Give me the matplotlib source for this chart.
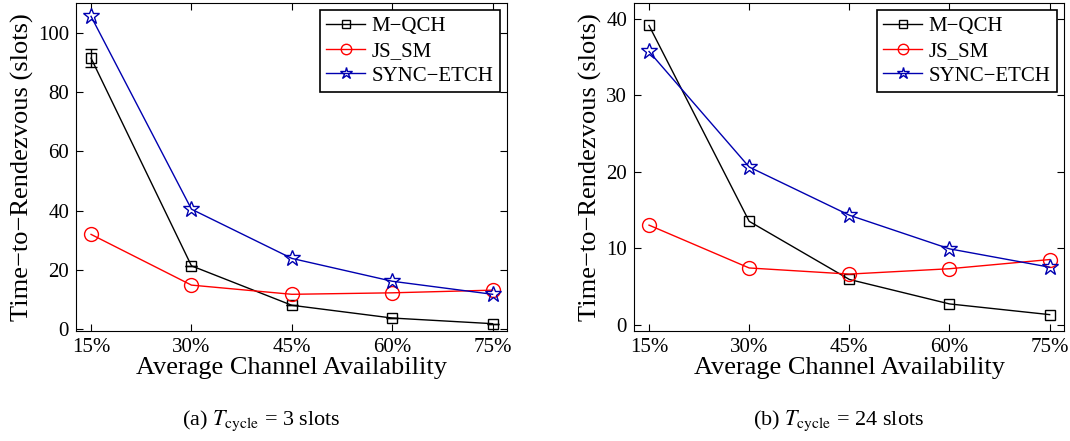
import numpy as np
import matplotlib
matplotlib.use('Agg')
import matplotlib.pyplot as plt

plt.rcParams['font.family'] = ['Liberation Serif', 'DejaVu Serif']
plt.rcParams['mathtext.fontset'] = 'stix'

avail = [15, 30, 45, 60, 75]
avail_labels = ['15%', '30%', '45%', '60%', '75%']

# T_cycle = 3 slots
mqch_3 = [91.4, 21.4, 8.1, 3.8, 1.9]
mqch_3_err = [3.1, 0, 0, 0, 0]
jssm_3 = [32.0, 14.9, 11.8, 12.3, 13.2]
sync_3 = [105.5, 40.5, 23.9, 16.2, 11.8]

# T_cycle = 24 slots
mqch_24 = [39.1, 13.5, 5.9, 2.7, 1.3]
jssm_24 = [13.0, 7.4, 6.6, 7.3, 8.5]
sync_24 = [35.7, 20.6, 14.3, 9.9, 7.5]

W, H = 1070, 441
fig = plt.figure(figsize=(W / 100, H / 100), dpi=100)
ax1 = fig.add_axes([76 / W, 1 - 331 / H, 431 / W, 328 / H])
ax2 = fig.add_axes([634 / W, 1 - 331 / H, 430 / W, 328 / H])

def panel(ax, mqch, jssm, sync, ylim, yticks, mqch_err=None):
	h1, = ax.plot(avail, mqch, color='black', marker='s', ms=7, mfc='none', lw=1, label='M\u2212QCH')
	if mqch_err is not None:
		ax.errorbar(avail, mqch, yerr=mqch_err, fmt='none', ecolor='black', capsize=4, elinewidth=1)
	h2, = ax.plot(avail, jssm, color='red', marker='o', ms=10, mfc='none', lw=1, label='JS_SM')
	h3, = ax.plot(avail, sync, color='#0000b0', marker='*', ms=12, mfc='none', mew=1, lw=1, label='SYNC\u2212ETCH')
	ax.set_xlim(12.75, 77.15)
	ax.set_ylim(*ylim)
	ax.set_xticks(avail)
	ax.set_xticklabels(avail_labels)
	ax.set_yticks(yticks)
	ax.tick_params(direction='in', top=True, right=True, labelsize=15, length=5, pad=5)
	ax.set_xlabel('Average Channel Availability', fontsize=19, labelpad=0)
	ax.set_ylabel('Time\u2212to\u2212Rendezvous (slots)', fontsize=19, labelpad=3)
	leg = ax.legend(handles=[h1, h2, h3], loc='upper right', fontsize=15, fancybox=False,
		framealpha=1, edgecolor='black', borderaxespad=0.35, handlelength=1.9,
		labelspacing=0.25, borderpad=0.3, handletextpad=0.3, markerscale=0.75)
	leg.get_frame().set_linewidth(1.2)

panel(ax1, mqch_3, jssm_3, sync_3, (-0.57, 110.0), [0, 20, 40, 60, 80, 100], mqch_3_err)
panel(ax2, mqch_24, jssm_24, sync_24, (-0.84, 42.04), [0, 10, 20, 30, 40])

fig.text(182 / W, 1 - 421 / H, r'(a) $T_{\rm cycle}$ = 3 slots', fontsize=16, va='center')
fig.text(753 / W, 1 - 421 / H, r'(b) $T_{\rm cycle}$ = 24 slots', fontsize=16, va='center')

plt.savefig('out.png')
plt.close()
